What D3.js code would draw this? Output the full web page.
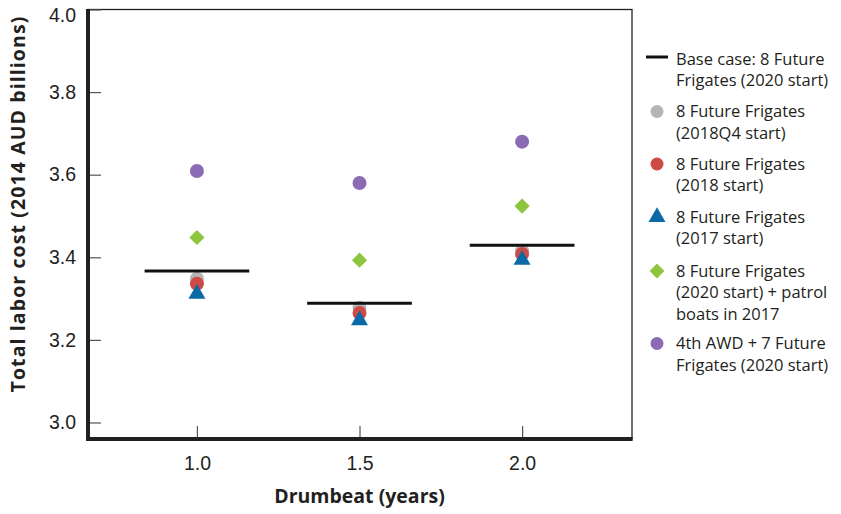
<!DOCTYPE html>
<html>
<head>
<meta charset="utf-8">
<script src="https://cdn.jsdelivr.net/npm/d3@7"></script>
<style>
  html, body { margin: 0; padding: 0; background: #fff; }
  svg { display: block; font-family: "Open Sans", "Noto Sans", sans-serif; }
</style>
</head>
<body>
<svg id="chart" width="841" height="514"></svg>
<script>
// ---- data ----
const drumbeats = [1.0, 1.5, 2.0];
const baseCase     = [3.367, 3.289, 3.429];
const q4_2018      = [3.348, 3.278, 3.416];
const start2018    = [3.336, 3.265, 3.408];
const start2017    = [3.314, 3.250, 3.396];
const patrolBoats  = [3.448, 3.393, 3.524];
const awd4         = [3.609, 3.580, 3.680];
const yTicks = [3.0, 3.2, 3.4, 3.6, 3.8, 4.0];
const xTicks = [1.0, 1.5, 2.0];

const series = [
  { name: ["Base case: 8 Future", "Frigates (2020 start)"], values: baseCase, type: "line", color: "#111" },
  { name: ["8 Future Frigates", "(2018Q4 start)"], values: q4_2018, type: "circle", color: "#b4b4b4" },
  { name: ["8 Future Frigates", "(2018 start)"], values: start2018, type: "circle", color: "#cd4a45" },
  { name: ["8 Future Frigates", "(2017 start)"], values: start2017, type: "triangle", color: "#0a6aa8" },
  { name: ["8 Future Frigates", "(2020 start) + patrol", "boats in 2017"], values: patrolBoats, type: "diamond", color: "#8cc63f" },
  { name: ["4th AWD + 7 Future", "Frigates (2020 start)"], values: awd4, type: "circle", color: "#8b6bb3" }
];

// ---- layout ----
const svg = d3.select("#chart");
const textColor = "#231f20";
const pLeft = 88, pRight = 632, pTop = 9.5, pBottom = 439;

const x = d3.scaleLinear().domain([0.665, 2.338]).range([pLeft, pRight]);
const y = d3.scaleLinear().domain([2.96, 4.0]).range([pBottom, pTop]);

// frame (thin top/right)
svg.append("rect")
  .attr("x", pLeft).attr("y", pTop)
  .attr("width", pRight - pLeft).attr("height", pBottom - pTop)
  .attr("fill", "none").attr("stroke", "#231f20").attr("stroke-width", 1.3);

// y axis
const yAxis = d3.axisLeft(y).tickValues(yTicks).tickFormat(d3.format(".1f"))
  .tickSizeInner(-13).tickSizeOuter(0).tickPadding(13);
const gy = svg.append("g").attr("transform", `translate(${pLeft},0)`).call(yAxis);
gy.select(".domain").remove();
gy.selectAll(".tick line").attr("stroke", "#555").attr("stroke-width", 1.2);
gy.selectAll(".tick text").attr("fill", textColor).attr("font-size", 19.5)
  .attr("x", -12)
  .attr("y", d => d === 4.0 ? 6 : 0);

// x axis
const xAxis = d3.axisBottom(x).tickValues(xTicks).tickFormat(d3.format(".1f"))
  .tickSizeInner(-13).tickSizeOuter(0).tickPadding(17);
const gx = svg.append("g").attr("transform", `translate(0,${pBottom})`).call(xAxis);
gx.select(".domain").remove();
gx.selectAll(".tick line").attr("stroke", "#555").attr("stroke-width", 1.2);
gx.selectAll(".tick text").attr("fill", textColor).attr("font-size", 19.5)
  .attr("y", 17).attr("dy", "0.71em");

// thick left / bottom axis lines
svg.append("line").attr("x1", pLeft).attr("x2", pLeft).attr("y1", pTop - 0.6).attr("y2", pBottom + 2)
  .attr("stroke", "#231f20").attr("stroke-width", 4);
svg.append("line").attr("x1", pLeft - 2).attr("x2", pRight + 0.6).attr("y1", pBottom).attr("y2", pBottom)
  .attr("stroke", "#231f20").attr("stroke-width", 4);

// axis titles
svg.append("text")
  .attr("transform", `translate(25,204) rotate(-90)`)
  .attr("text-anchor", "middle").attr("font-weight", "bold").attr("font-size", 19.5)
  .attr("letter-spacing", 1.1)
  .attr("fill", textColor)
  .text("Total labor cost (2014 AUD billions)");
svg.append("text")
  .attr("x", x(1.5)).attr("y", 503)
  .attr("text-anchor", "middle").attr("font-weight", "bold").attr("font-size", 19.5)
  .attr("fill", textColor)
  .text("Drumbeat (years)");

// marks
const halfW = 0.161;
const symbolFor = {
  circle: d3.symbol().type(d3.symbolCircle).size(Math.PI * 7 * 7),
  triangle: d3.symbol().type(d3.symbolTriangle).size(125),
  diamond: d3.symbol().type(d3.symbolSquare).size(115)
};
const marks = svg.append("g");
const order = [5, 4, 1, 2, 3, 0];
order.forEach(i => {
  const s = series[i];
  s.values.forEach((v, j) => {
    const cx = x(drumbeats[j]), cy = y(v);
    if (s.type === "line") {
      marks.append("line")
        .attr("x1", x(drumbeats[j] - halfW)).attr("x2", x(drumbeats[j] + halfW))
        .attr("y1", cy).attr("y2", cy)
        .attr("stroke", s.color).attr("stroke-width", 3);
    } else {
      const rot = s.type === "diamond" ? 45 : 0;
      const dy = s.type === "triangle" ? 1 : 0;
      marks.append("path")
        .attr("d", symbolFor[s.type]())
        .attr("transform", `translate(${cx},${cy + dy}) rotate(${rot})`)
        .attr("fill", s.color);
    }
  });
});

// legend
const legend = svg.append("g");
const legendTops = [59, 111.5, 164, 217, 271, 343.5];
const lineH = 21.7;
series.forEach((s, i) => {
  const cy = legendTops[i];
  if (s.type === "line") {
    legend.append("line").attr("x1", 646).attr("x2", 668).attr("y1", cy - 2).attr("y2", cy - 2)
      .attr("stroke", s.color).attr("stroke-width", 3);
  } else {
    const sz = { circle: Math.PI * 6.5 * 6.5, triangle: 125, diamond: 110 }[s.type];
    const sym = d3.symbol().type(s.type === "circle" ? d3.symbolCircle : s.type === "triangle" ? d3.symbolTriangle : d3.symbolSquare).size(sz);
    const rot = s.type === "diamond" ? 45 : 0;
    legend.append("path").attr("d", sym())
      .attr("transform", `translate(657,${cy}) rotate(${rot})`)
      .attr("fill", s.color);
  }
  s.name.forEach((t, k) => {
    legend.append("text")
      .attr("x", 676).attr("y", cy + k * lineH).attr("dy", "0.35em")
      .attr("font-size", 16.5).attr("fill", textColor)
      .text(t);
  });
});
</script>
</body>
</html>
